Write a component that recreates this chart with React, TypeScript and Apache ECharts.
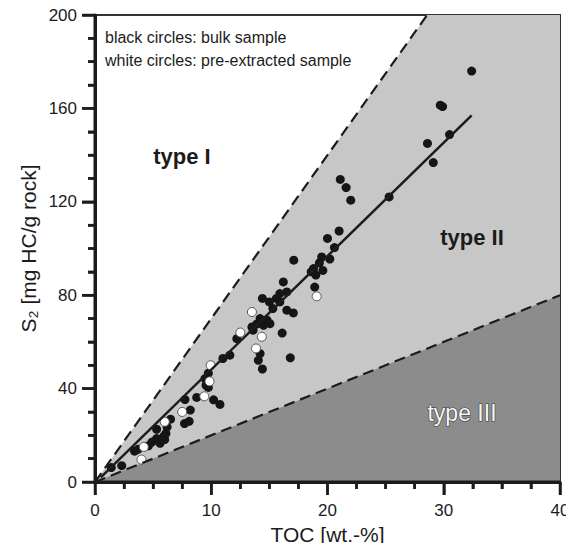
import React, { useEffect, useRef } from "react";
import * as echarts from "echarts";

// ---- data ----
const xTicks = [0, 10, 20, 30, 40];
const yTicks = [0, 40, 80, 120, 160, 200];
const xTickValues = [0, 2.5, 5, 7.5, 10, 12.5, 15, 17.5, 20, 22.5, 25, 27.5, 30, 32.5, 35, 37.5, 40];
const yTickValues = [0, 10, 20, 30, 40, 50, 60, 70, 80, 90, 100, 110, 120, 130, 140, 150, 160, 170, 180, 190, 200];

// region boundaries (TOC, S2)
const lightRegion = [[0, 0], [28.57, 200], [40, 200], [40, 0]];
const darkRegion = [[0, 0], [40, 80], [40, 0]];
const typeIBoundary = [[0, 0], [28.57, 200]];
const typeIIIBoundary = [[0, 0], [40, 80]];
const regressionLine = [[0.5, 2], [32.4, 157]];

// bulk samples (black circles)
const bulkTOC = [
  1.4, 2.3, 3.4, 3.7, 4.6, 4.9, 5.3, 5.3, 5.6, 5.9, 6.0, 6.1, 6.5, 6.2, 7.7, 8.1, 8.2, 7.74,
  8.75, 9.55, 9.75, 9.46, 9.75, 10.2, 10.75, 11.0, 11.6, 12.2, 13.5, 13.6, 13.9, 14.2, 14.5,
  14.8, 15.05, 14.2, 14.05, 14.4, 14.4, 15.0, 15.3, 15.6, 15.9, 15.9, 16.5, 16.2, 16.5, 17.06,
  16.1, 16.8, 17.1, 18.6, 18.8, 19.0, 18.9, 19.3, 19.6, 19.5, 20.2, 20.0, 20.6, 21.0, 21.1,
  21.6, 22.0, 25.3, 28.6, 29.1, 29.7, 29.9, 30.5, 32.4,
];
const bulkS2 = [
  6.2, 7.0, 13.2, 14.0, 15.5, 17.1, 18.6, 22.6, 16.6, 19.5, 18.2, 20.8, 26.9, 23.6, 25.0, 26.0,
  30.8, 35.3, 36.2, 41.4, 40.5, 44.3, 46.6, 35.2, 33.2, 52.9, 54.3, 61.4, 66.4, 65.0, 67.6,
  70.0, 67.1, 69.3, 67.8, 55.0, 52.1, 48.4, 78.6, 77.1, 74.3, 78.6, 77.1, 80.7, 81.4, 85.7,
  73.6, 72.4, 63.8, 53.2, 95.0, 90.0, 91.4, 88.6, 83.5, 93.8, 90.6, 96.4, 95.5, 104.3, 100.4,
  107.5, 129.6, 126.1, 120.7, 122.1, 145.0, 136.8, 161.4, 160.8, 148.8, 176.0,
];

// pre-extracted samples (white circles)
const extractedTOC = [4.0, 4.2, 6.0, 7.5, 9.4, 9.85, 9.95, 12.5, 13.5, 13.85, 14.35, 19.07];
const extractedS2 = [9.6, 15.0, 25.8, 30.0, 36.7, 43.1, 50.0, 64.0, 72.8, 57.2, 62.2, 79.5];

const legendLines = ["black circles: bulk sample", "white circles: pre-extracted sample"];

const FONT = "'Liberation Sans', Arial, Helvetica, sans-serif";
const INK = "#1c1c1c";

export default function App() {
  const ref = useRef<HTMLDivElement>(null);

  useEffect(() => {
    if (!ref.current) return;
    const chart = echarts.init(ref.current, undefined, { renderer: "svg" });

    const bulk = bulkTOC.map((x, i) => [x, bulkS2[i]]);
    const extracted = extractedTOC.map((x, i) => [x, extractedS2[i]]);

    // tick marks and axis lines drawn through the chart's scales (fallback, no texts)
    const renderTicks = (_p: any, api: any) => {
      const children: any[] = [];
      const o = api.coord([0, 0]);
      const xe = api.coord([40, 0]);
      const ye = api.coord([0, 200]);
      const st = { stroke: INK, lineWidth: 2.5 };
      xTickValues.forEach((v) => {
        const p = api.coord([v, 0]);
        const len = xTicks.includes(v) ? 13 : 7;
        children.push({ type: "line", shape: { x1: p[0], y1: o[1], x2: p[0], y2: o[1] + len }, style: st });
      });
      yTickValues.forEach((v) => {
        const p = api.coord([0, v]);
        const len = yTicks.includes(v) ? 13 : 7;
        children.push({ type: "line", shape: { x1: o[0], y1: p[1], x2: o[0] - len, y2: p[1] }, style: st });
      });
      children.push({ type: "line", shape: { x1: o[0], y1: o[1], x2: xe[0] + 1, y2: o[1] }, style: { stroke: INK, lineWidth: 3 } });
      children.push({ type: "line", shape: { x1: o[0], y1: o[1] + 1.5, x2: o[0], y2: ye[1] - 1 }, style: { stroke: INK, lineWidth: 3 } });
      return { type: "group", children };
    };

    chart.setOption({
      animation: false,
      grid: {
        left: 95,
        top: 15,
        width: 465,
        height: 467,
        show: true,
        borderColor: "#333",
        borderWidth: 2,
      },
      xAxis: {
        type: "value",
        min: 0,
        max: 40,
        interval: 10,
        axisLine: { show: true, lineStyle: { color: INK, width: 3 } },
        axisTick: { show: true, length: 13, lineStyle: { color: INK, width: 2.5 } },
        minorTick: { show: true, splitNumber: 4, length: 7, lineStyle: { color: INK, width: 2.5 } },
        splitLine: { show: false },
        axisLabel: {
          margin: 20,
          color: INK,
          fontSize: 17,
          fontFamily: FONT,
          formatter: (v: number) => (xTicks.includes(v) ? String(v) : ""),
        },
        name: "TOC [wt.-%]",
        nameLocation: "middle",
        nameGap: 42,
        nameMoveOverlap: false,
        nameTextStyle: { color: INK, fontSize: 21, fontFamily: FONT },
      },
      yAxis: {
        type: "value",
        min: 0,
        max: 200,
        interval: 40,
        axisLine: { show: true, lineStyle: { color: INK, width: 3 } },
        axisTick: { show: true, length: 13, lineStyle: { color: INK, width: 2.5 } },
        minorTick: { show: true, splitNumber: 4, length: 7, lineStyle: { color: INK, width: 2.5 } },
        splitLine: { show: false },
        axisLabel: {
          margin: 18,
          color: INK,
          fontSize: 17,
          fontFamily: FONT,
          formatter: (v: number) => (yTicks.includes(v) ? String(v) : ""),
        },
        name: "S\u2082 [mg HC/g rock]",
        nameLocation: "middle",
        nameGap: 56,
        nameMoveOverlap: false,
        nameTextStyle: { color: INK, fontSize: 21, fontFamily: FONT },
      },
      graphic: [
        ...legendLines.map((t, i) => ({
          type: "text",
          x: 105,
          y: 37 + i * 23,
          z: 10,
          style: { text: t, fill: INK, font: `16px ${FONT}`, verticalAlign: "middle" },
        })),
        {
          type: "text",
          x: 182,
          y: 156,
          z: 10,
          style: { text: "type I", fill: INK, font: `bold 22px ${FONT}`, align: "center", verticalAlign: "middle" },
        },
        {
          type: "text",
          x: 472,
          y: 237,
          z: 10,
          style: { text: "type II", fill: INK, font: `bold 22px ${FONT}`, align: "center", verticalAlign: "middle" },
        },
        {
          type: "text",
          x: 462,
          y: 413,
          z: 10,
          style: {
            text: "type III",
            fill: "#f6f6f6",
            stroke: "#3a3a3a",
            lineWidth: 1.2,
            font: `23px ${FONT}`,
            align: "center",
            verticalAlign: "middle",
          },
        },
      ],
      series: [
        {
          type: "custom",
          silent: true,
          data: [[0, 0]],
          renderItem: (_p: any, api: any) => ({
            type: "group",
            children: [
              {
                type: "polygon",
                shape: { points: lightRegion.map((p) => api.coord(p)) },
                style: { fill: "#c7c7c7" },
              },
              {
                type: "polygon",
                shape: { points: darkRegion.map((p) => api.coord(p)) },
                style: { fill: "#8c8c8c" },
              },
            ],
          }),
        },
        {
          type: "line",
          data: typeIBoundary,
          symbol: "none",
          lineStyle: { color: INK, width: 2.2, type: [11, 6] },
        },
        {
          type: "line",
          data: typeIIIBoundary,
          symbol: "none",
          lineStyle: { color: INK, width: 2.2, type: [11, 6] },
        },
        {
          type: "line",
          data: regressionLine,
          symbol: "none",
          lineStyle: { color: INK, width: 2.5 },
        },
        {
          type: "scatter",
          data: bulk,
          symbolSize: 9,
          itemStyle: { color: "#151515", opacity: 1 },
        },
        {
          type: "scatter",
          data: extracted,
          symbolSize: 9,
          itemStyle: { color: "#ffffff", borderColor: "#555", borderWidth: 1, opacity: 1 },
        },
        {
          type: "custom",
          silent: true,
          clip: false,
          z: 8,
          data: [[0, 0]],
          renderItem: renderTicks,
        },
      ],
    });

    return () => chart.dispose();
  }, []);

  return <div ref={ref} style={{ width: 574, height: 551, margin: -8 }} />;
}
